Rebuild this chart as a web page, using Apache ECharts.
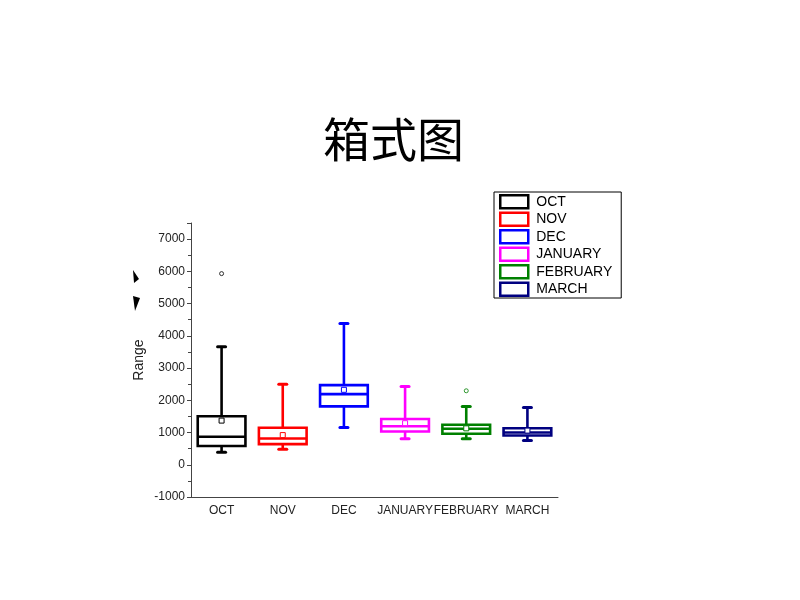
<!DOCTYPE html>
<html><head><meta charset="utf-8">
<script src="https://cdn.jsdelivr.net/npm/echarts@6/dist/echarts.min.js"></script>
<style>html,body{margin:0;padding:0;background:#fff}#c{width:800px;height:600px}</style>
</head><body><div id="c"></div>
<script>
const categories = ['OCT','NOV','DEC','JANUARY','FEBRUARY','MARCH'];
const whiskerLow  = [385, 480, 1155, 805, 805, 755];
const q1          = [580, 640, 1810, 1030, 960, 910];
const median      = [868, 816, 2190, 1195, 1115, 1000];
const q3          = [1504, 1150, 2470, 1420, 1240, 1135];
const whiskerHigh = [3660, 2500, 4380, 2430, 1810, 1780];
const means       = [1370, 920, 2325, 1290, 1130, 1060];
const outlierCat  = [0, 4];
const outlierVal  = [5930, 2295];
const colors = ['#000000','#ff0000','#0000ff','#ff00ff','#008000','#000080'];

function renderBox(params, api){
  const x = api.value(0);
  const col = colors[x];
  const pLow = api.coord([x, api.value(1)]);
  const pQ1 = api.coord([x, api.value(2)]);
  const pMed = api.coord([x, api.value(3)]);
  const pQ3 = api.coord([x, api.value(4)]);
  const pHigh = api.coord([x, api.value(5)]);
  const pMean = api.coord([x, api.value(6)]);
  const bw = api.size([1,0])[0]*0.78;
  const cx = pMed[0];
  const lw = 2.6;
  const capH = 4;
  const ls = {stroke: col, lineWidth: lw, fill: null};
  return {type:'group', children:[
    {type:'line', shape:{x1:cx,y1:pQ3[1],x2:cx,y2:pHigh[1]}, style:ls},
    {type:'line', shape:{x1:cx,y1:pQ1[1],x2:cx,y2:pLow[1]}, style:ls},
    {type:'line', shape:{x1:cx-capH,y1:pHigh[1],x2:cx+capH,y2:pHigh[1]}, style:{stroke:col,lineWidth:3,lineCap:'round'}},
    {type:'line', shape:{x1:cx-capH,y1:pLow[1],x2:cx+capH,y2:pLow[1]}, style:{stroke:col,lineWidth:3,lineCap:'round'}},
    {type:'rect', shape:{x:cx-bw/2,y:pQ3[1],width:bw,height:pQ1[1]-pQ3[1]}, style:{stroke:col,lineWidth:lw,fill:'#fff'}},
    {type:'line', shape:{x1:cx-bw/2,y1:pMed[1],x2:cx+bw/2,y2:pMed[1]}, style:ls},
    {type:'rect', shape:{x:cx-2.5,y:pMean[1]-2.5,width:5,height:5}, style:{stroke:col,lineWidth:1,fill:'#fff'}}
  ]};
}

const series = categories.map((name,i)=>({
  name: name,
  type: 'custom',
  renderItem: renderBox,
  itemStyle: {color: colors[i]},
  encode: {x: 0, y: [1,2,3,4,5]},
  data: [[i, whiskerLow[i], q1[i], median[i], q3[i], whiskerHigh[i], means[i]]],
  z: 3
}));
series.push({
  type: 'scatter',
  symbol: 'circle',
  symbolSize: 4,
  data: outlierCat.map((c,k)=>({value:[c, outlierVal[k]], itemStyle:{color:'#fff', borderColor:colors[c], borderWidth:1}})),
  z: 4
});

const chart = echarts.init(document.getElementById('c'), null, {renderer:'canvas'});
chart.setOption({
  backgroundColor: '#fff',
  animation: false,
  title: {text:'箱式图', left: 318, top: 111, textStyle:{fontFamily:'Noto Sans CJK SC', fontSize:47, fontWeight:'normal', color:'#000'}},
  legend: {
    orient: 'vertical', left: 494, top: 192,
    padding: [2, 9, 1, 5], borderColor: '#000', borderWidth: 1,
    itemWidth: 28, itemHeight: 13, itemGap: 2,
    textStyle: {fontFamily:'Liberation Sans', fontSize:14, lineHeight:14, color:'#000', padding:[0,0,0,3]},
    data: categories.map((n,i)=>({name:n, icon:'rect', itemStyle:{color:'#fff', borderColor:colors[i], borderWidth:2.5}}))
  },
  grid: {left: 191, right: 242, top: 223, bottom: 103},
  xAxis: {
    type: 'category', data: categories, boundaryGap: true,
    axisLine: {onZero:false, lineStyle:{color:'#444', width:1}},
    axisTick: {alignWithLabel:true, length:4, lineStyle:{color:'#444'}},
    axisLabel: {fontFamily:'Liberation Sans', fontSize:12, color:'#222', margin:8, interval:0}
  },
  yAxis: {
    type: 'value', min: -1000, max: 7500, interval: 1000,
    name: 'Range', nameLocation: 'middle', nameGap: 45,
    nameTextStyle: {fontFamily:'Liberation Sans', fontSize:14, color:'#222'},
    axisLine: {show:true, lineStyle:{color:'#444', width:1}},
    axisTick: {show:true, length:4, lineStyle:{color:'#444'}},
    minorTick: {show:true, splitNumber:2, length:3, lineStyle:{color:'#444'}},
    splitLine: {show:false},
    axisLabel: {fontFamily:'Liberation Sans', fontSize:12, color:'#222', margin:6, showMaxLabel:false, formatter: v => String(v)}
  },
  graphic: [
    {type:'polygon', shape:{points:[[133,270],[139,279],[134,283]]}, style:{fill:'#000'}},
    {type:'polygon', shape:{points:[[133,296],[140,298],[135,311]]}, style:{fill:'#000'}}
  ],
  series: series
});
</script></body></html>
